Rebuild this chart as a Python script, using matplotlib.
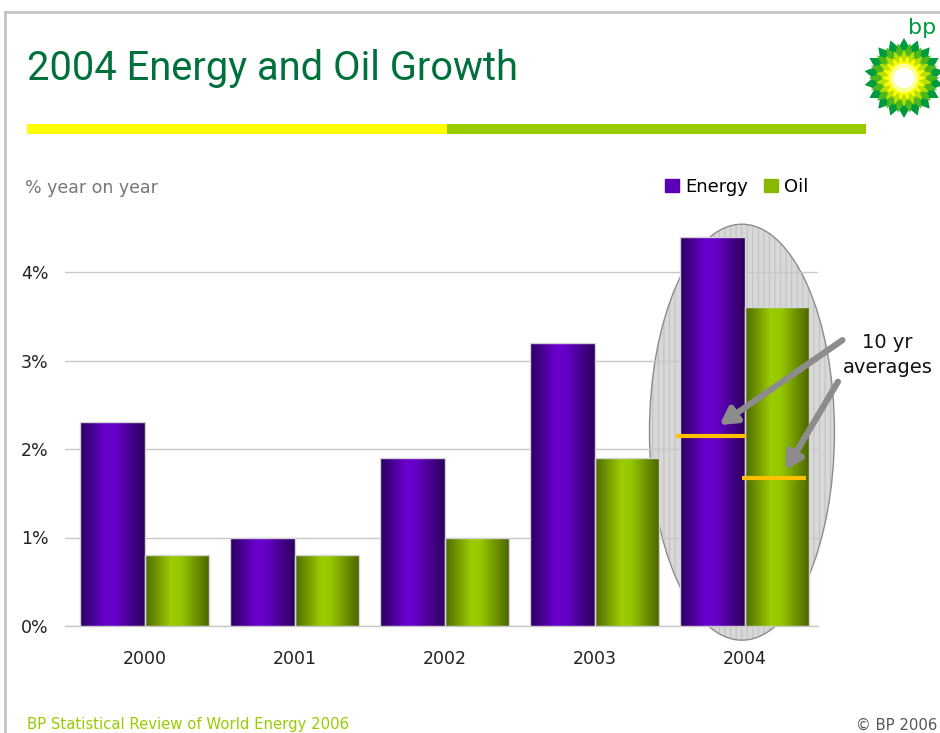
import numpy as np
import matplotlib.pyplot as plt
from matplotlib.colors import LinearSegmentedColormap
from matplotlib.patches import Ellipse, Rectangle, Polygon, Circle, Patch
from matplotlib.lines import Line2D

years = ["2000", "2001", "2002", "2003", "2004"]
energy = [2.3, 1.0, 1.9, 3.2, 4.4]
oil = [0.8, 0.8, 1.0, 1.9, 3.6]
avg_energy = 2.15   # 10 yr average, energy
avg_oil = 1.67      # 10 yr average, oil
yticks = [0, 1, 2, 3, 4]
ytick_labels = ["0%", "1%", "2%", "3%", "4%"]

W, H = 940, 733
fig = plt.figure(figsize=(W / 100, H / 100), dpi=100)


def fx(px):
    return px / W


def fy(py):
    return 1 - py / H


# slide frame
fig.add_artist(Line2D([fx(5), 1], [fy(12), fy(12)], color="#c4c4c4", lw=2))
fig.add_artist(Line2D([fx(5), fx(5)], [fy(12), 0], color="#c4c4c4", lw=2))

# title + coloured stripe
fig.text(fx(27), fy(69), "2004 Energy and Oil Growth", fontsize=28.7, family="Roboto",
         color="#00703c", va="center")
fig.add_artist(Rectangle((fx(27), fy(134)), fx(447) - fx(27), fy(124) - fy(134),
                         color="#ffff00", lw=0))
fig.add_artist(Rectangle((fx(447), fy(134)), fx(866) - fx(447), fy(124) - fy(134),
                         color="#99cc00", lw=0))

fig.text(fx(25), fy(188), "% year on year", fontsize=12.5, color="#777777", va="center")

# chart area
ax = fig.add_axes([fx(65), fy(626), fx(818) - fx(65), (626 - 227.75) / H])
x = np.arange(len(years))
bw = 0.43
b_energy = ax.bar(x - bw / 2, energy, bw, color="#6600cc", zorder=3)
b_oil = ax.bar(x + bw / 2, oil, bw, color="#99cc00", zorder=3)

purple_cm = LinearSegmentedColormap.from_list(
    "purp", [(0, "#2a0060"), (0.4, "#6a00d0"), (0.55, "#6600c8"), (1, "#2c005c")])
green_cm = LinearSegmentedColormap.from_list(
    "grn", [(0, "#4e6a00"), (0.4, "#9ccc00"), (0.55, "#96c800"), (1, "#4a6400")])
grad = np.linspace(0, 1, 128).reshape(1, -1)
for bars, cm in ((b_energy, purple_cm), (b_oil, green_cm)):
    for p in bars:
        x0, w, h = p.get_x(), p.get_width(), p.get_height()
        im = ax.imshow(grad, cmap=cm, extent=[x0, x0 + w, 0, h], aspect="auto",
                       zorder=3, interpolation="bilinear")
        im.set_clip_path(p)
        p.set_facecolor("none")
        p.set_edgecolor("#d4d4d4")
        p.set_linewidth(1)
        p.set_zorder(4)

# highlight around 2004
plt.rcParams["hatch.linewidth"] = 0.8
ax.add_patch(Ellipse((3.98, 2.19), 1.233, 4.70, facecolor="#d8d8d8", edgecolor="#c2c2c2",
                     hatch="|||", lw=0, zorder=1, clip_on=False))
ax.add_patch(Ellipse((3.98, 2.19), 1.233, 4.70, facecolor="none", edgecolor="#8c8c8c",
                     lw=1, zorder=1.1, clip_on=False))

# 10 year average markers
pe, po = b_energy[-1], b_oil[-1]
ax.plot([pe.get_x() - 0.03, pe.get_x() + pe.get_width() + 0.01], [avg_energy] * 2,
        color="#ffc000", lw=3, zorder=5, solid_capstyle="butt")
ax.plot([po.get_x() - 0.02, po.get_x() + po.get_width() - 0.02], [avg_oil] * 2,
        color="#ffc000", lw=3, zorder=5, solid_capstyle="butt")

arrow = dict(arrowstyle="-|>,head_length=0.8,head_width=0.45", lw=4.5,
             color="#8c8c8c", shrinkA=0, shrinkB=0, mutation_scale=12)
ax.annotate("", xy=(3.83, avg_energy + 0.12), xytext=(4.65, 3.23),
            arrowprops=arrow, zorder=6, annotation_clip=False)
ax.annotate("", xy=(4.27, avg_oil + 0.09), xytext=(4.62, 2.76),
            arrowprops=arrow, zorder=6, annotation_clip=False)
ax.text(4.95, 3.06, "10 yr\naverages", ha="center", va="center", fontsize=14,
        color="#111111", linespacing=1.4, clip_on=False)

ax.set_xlim(-0.533, 4.487)
ax.set_ylim(0, 4.5)
ax.set_yticks(yticks, ytick_labels)
ax.set_xticks(x, years)
ax.tick_params(axis="y", length=0, pad=12, labelsize=12.5, labelcolor="#222222")
ax.tick_params(axis="x", length=0, pad=17, labelsize=12.5, labelcolor="#222222")
ax.grid(axis="y", color="#c8c8c8", lw=1)
for gl in ax.get_ygridlines():
    gl.set_zorder(2)
ax.axhline(0, color="#c8c8c8", lw=1, zorder=2, clip_on=False)
for s in ax.spines.values():
    s.set_visible(False)

fig.legend(handles=[Patch(color="#5a00b4", label="Energy"), Patch(color="#88b800", label="Oil")],
           loc="upper left", bbox_to_anchor=(fx(665), fy(178)), ncol=2, frameon=False,
           fontsize=13, handlelength=0.75, handleheight=0.75, handletextpad=0.35,
           columnspacing=0.9, borderpad=0, borderaxespad=0)

# bp helios logo
lg = fig.add_axes([fx(864), fy(118), 80 / W, 80 / H])
lg.set_xlim(-1, 1)
lg.set_ylim(-1, 1)
lg.set_aspect("equal")
lg.axis("off")


def star(n, r_out, r_in, rot):
    ang = np.linspace(0, 2 * np.pi, 2 * n, endpoint=False) + rot
    r = np.where(np.arange(2 * n) % 2 == 0, r_out, r_in)
    return np.column_stack([r * np.cos(ang), r * np.sin(ang)])


n = 18
step = np.pi / n
lg.add_patch(Polygon(star(n, 1.0, 0.78, np.pi / 2), color="#009a3e", lw=0))
lg.add_patch(Polygon(star(n, 0.88, 0.64, np.pi / 2 + step), color="#4cb81c", lw=0))
lg.add_patch(Polygon(star(n, 0.72, 0.5, np.pi / 2), color="#b8e000", lw=0))
lg.add_patch(Polygon(star(n, 0.58, 0.38, np.pi / 2 + step), color="#ffff00", lw=0))
lg.add_patch(Circle((0, 0), 0.36, color="#ffff99", lw=0))
lg.add_patch(Circle((0, 0), 0.25, color="#ffffff", lw=0))
fig.text(fx(922), fy(28), "bp", fontsize=16, color="#009a3e", ha="center", va="center")

# footer
fig.text(fx(27), fy(725), "BP Statistical Review of World Energy 2006", fontsize=10.7,
         color="#99cc00", va="center")
fig.text(fx(937), fy(725), "© BP 2006", fontsize=10.7, color="#555555", va="center", ha="right")

fig.savefig("out.png", dpi=100)
